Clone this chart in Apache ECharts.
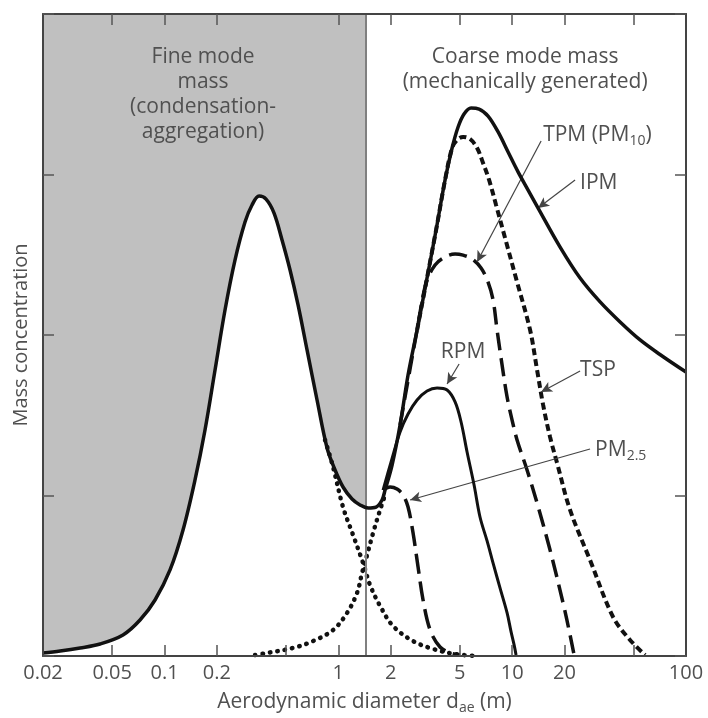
<!DOCTYPE html>
<html><head><meta charset="utf-8">
<script src="https://cdn.jsdelivr.net/npm/echarts@6/dist/echarts.min.js"></script>
<style>html,body{margin:0;padding:0;background:#fff}#c{width:708px;height:718px}</style>
</head><body><div id="c"></div>
<script>
// ---- axis ----
const xMin = 0.02, xMax = 100;
const tickLabelValues = [0.02, 0.05, 0.1, 0.2, 1, 2, 5, 10, 20, 100];
const tickLabelTexts = ['0.02', '0.05', '0.1', '0.2', '1', '2', '5', '10', '20', '100'];
const bottomTickValues = [0.05, 0.1, 0.2, 0.5, 1, 2, 5, 10, 20, 50];
const topTickValues = [0.05, 0.1, 0.2, 1, 2, 5, 10, 20, 50];
const fineCoarseBoundary = 1.43;

// ---- total mass distribution (IPM) ----
const totalD = [0.02, 0.0251, 0.0327, 0.0426, 0.0577, 0.0723, 0.0882, 0.1076, 0.1278, 0.1498, 0.171, 0.1953, 0.2229, 0.2544, 0.2905, 0.3188, 0.3499, 0.3838, 0.4267, 0.4744, 0.5275, 0.5865, 0.6607, 0.7543, 0.8612, 0.9574, 1.064, 1.199, 1.333, 1.483, 1.648, 1.784, 1.857, 2.038, 2.265, 2.518, 2.838, 3.197, 3.65, 4.112, 4.512, 4.886, 5.287, 5.802, 6.45, 7.267, 8.299, 9.474, 10.81, 12.35, 14.1, 18.87, 24.59, 32.06, 41.78, 54.45, 72.88, 100];
const totalC = [0.019, 0.031, 0.05, 0.075, 0.131, 0.224, 0.349, 0.536, 0.785, 1.097, 1.408, 1.782, 2.156, 2.467, 2.704, 2.81, 2.866, 2.847, 2.76, 2.592, 2.405, 2.187, 1.907, 1.595, 1.296, 1.159, 1.053, 0.978, 0.941, 0.922, 0.928, 0.972, 1.034, 1.19, 1.439, 1.751, 2.031, 2.324, 2.654, 2.966, 3.165, 3.296, 3.377, 3.414, 3.408, 3.364, 3.265, 3.14, 3.016, 2.903, 2.791, 2.548, 2.355, 2.206, 2.081, 1.969, 1.869, 1.769];

// ---- fine-mode tail (dotted) ----
const fineTailD = [0.8386, 0.9324, 1.064, 1.215, 1.388, 1.522, 1.738, 2.064, 2.691, 3.508, 4.695, 6.284];
const fineTailC = [1.346, 1.178, 0.928, 0.754, 0.579, 0.442, 0.312, 0.187, 0.093, 0.044, 0.012, 0];

// ---- coarse-mode tail (dotted) ----
const coarseTailD = [0.3318, 0.3889, 0.5487, 0.7153, 0.9324, 1.122, 1.281, 1.369, 1.463, 1.584, 1.738, 1.882];
const coarseTailC = [0.006, 0.019, 0.05, 0.093, 0.162, 0.268, 0.393, 0.517, 0.629, 0.766, 0.91, 1.022];

// ---- RPM (solid) ----
const rpmD = [1.808, 2.011, 2.265, 2.518, 2.838, 3.239, 3.698, 4.223, 4.695, 5.083, 5.503, 6.038, 6.531, 7.172, 7.767, 8.511, 9.35, 9.858, 10.26, 10.53];
const rpmC = [1.034, 1.209, 1.396, 1.508, 1.595, 1.651, 1.67, 1.657, 1.583, 1.458, 1.271, 1.065, 0.866, 0.717, 0.579, 0.424, 0.268, 0.15, 0.069, 0.006];

// ---- PM2.5 (dashed) ----
const pm25D = [1.808, 1.986, 2.177, 2.357, 2.518, 2.691, 2.875, 3.072, 3.373, 3.846, 4.395, 5.012];
const pm25C = [1.034, 1.053, 1.04, 1.003, 0.928, 0.766, 0.555, 0.349, 0.162, 0.056, 0.019, 0.006];

// ---- TPM / PM10 (long dash) ----
const tpmD = [2.265, 2.838, 3.197, 3.602, 4.112, 4.695, 5.218, 5.879, 6.623, 7.267, 7.767, 8.189, 8.75, 9.35, 9.989, 10.67, 12.18, 13.91, 16.52, 19.63, 21.53, 22.71];
const tpmC = [1.439, 2.031, 2.324, 2.436, 2.486, 2.505, 2.498, 2.474, 2.417, 2.33, 2.218, 2.031, 1.813, 1.614, 1.47, 1.346, 1.159, 0.953, 0.66, 0.33, 0.131, 0.006];

// ---- TSP (short dash) ----
const tspD = [2.838, 3.65, 4.112, 4.512, 4.822, 5.218, 5.728, 6.284, 6.801, 7.366, 8.079, 9.104, 10.67, 12.68, 13.91, 15.07, 16.52, 18.13, 21.53, 28.05, 38.07, 47.64, 58.17];
const tspC = [2.031, 2.654, 2.966, 3.165, 3.215, 3.234, 3.221, 3.165, 3.072, 2.966, 2.81, 2.604, 2.33, 2.031, 1.782, 1.564, 1.364, 1.202, 0.91, 0.598, 0.243, 0.1, 0.006];

// ---- annotations ----
const annoText = ['{a|TPM (PM}{s|10}{a|)}', '{a|IPM}', '{a|RPM}', '{a|TSP}', '{a|PM}{s|2.5}'];
const annoAlign = ['left', 'left', 'center', 'left', 'left'];
const annoLabelD = [15.07, 24.59, 5.218, 24.59, 30.0];
const annoLabelC = [3.246, 2.947, 1.894, 1.782, 1.283];
const arrowFromD = [14.67, 23.01, 4.951, 24.59, 28.05];
const arrowFromC = [3.209, 2.966, 1.819, 1.776, 1.29];
const arrowToD = [6.284, 14.1, 4.223, 14.67, 2.588];
const arrowToC = [2.455, 2.791, 1.695, 1.645, 0.972];

const regionText = ['Fine mode\nmass\n(condensation-\naggregation)', 'Coarse mode mass\n(mechanically generated)'];
const regionD = [0.1666, 11.87];
const regionC = [3.498, 3.651];

// ---------------------------------------------------------------
const L10 = Math.log10;
const toPts = (ds, cs) => ds.map((d, i) => [L10(d), cs[i]]);
const fontFam = "'Open Sans', 'DejaVu Sans', sans-serif";
const textColor = '#505050';
const ink = '#111';
function fmtTick(v) {
  let best = 0, bd = 1e9;
  tickLabelValues.forEach((t, i) => { const dd = Math.abs(L10(t) - v); if (dd < bd) { bd = dd; best = i; } });
  return tickLabelTexts[best];
}
const axisLineStyle = { color: '#444', width: 2 };
const tickStyle = { color: '#555', width: 1.5 };

function curve(name, ds, cs, lineStyle, z) {
  return { name, type: 'line', data: toPts(ds, cs), smooth: 0.35, symbol: 'none', silent: true, z,
           lineStyle: Object.assign({ color: ink }, lineStyle) };
}

const richStyles = {
  a: { fontSize: 21, color: textColor, fontFamily: fontFam, lineHeight: 26 },
  s: { fontSize: 14, color: textColor, fontFamily: fontFam, padding: [11, 0, 0, 0] }
};

const arrowData = annoText.map((t, i) => [
  { coord: [L10(arrowFromD[i]), arrowFromC[i]] },
  { coord: [L10(arrowToD[i]), arrowToC[i]] }
]);
const labelData = annoText.map((t, i) => ({
  coord: [L10(annoLabelD[i]), annoLabelC[i]],
  label: { show: true, position: 'inside', align: annoAlign[i], verticalAlign: 'middle', formatter: t, rich: richStyles }
})).concat(regionText.map((t, i) => ({
  coord: [L10(regionD[i]), regionC[i]],
  label: { show: true, position: 'inside', align: 'center', verticalAlign: 'middle', formatter: t,
           fontSize: 21, lineHeight: 25, color: textColor, fontFamily: fontFam }
})));

const option = {
  animation: false,
  backgroundColor: '#fff',
  grid: { left: 43, right: 22, top: 14, bottom: 62, containLabel: false, outerBoundsMode: 'none' },
  xAxis: [
    { type: 'value', min: L10(xMin), max: L10(xMax), position: 'bottom', z: 10,
      axisLine: { show: true, onZero: false, lineStyle: axisLineStyle },
      axisTick: { show: true, inside: true, length: 11, lineStyle: tickStyle, customValues: bottomTickValues.map(L10) },
      axisLabel: { show: true, margin: 7, fontSize: 20, color: textColor, fontFamily: fontFam,
                   customValues: tickLabelValues.map(L10), formatter: fmtTick },
      splitLine: { show: false },
      name: 'Aerodynamic diameter d{s|ae} (m)', nameLocation: 'middle', nameGap: 34,
      nameTextStyle: { fontSize: 21, color: textColor, fontFamily: fontFam,
        rich: { s: { fontSize: 14, color: textColor, fontFamily: fontFam, padding: [11, 0, 0, 0] } } } },
    { type: 'value', min: L10(xMin), max: L10(xMax), position: 'top', z: 10,
      axisLine: { show: true, onZero: false, lineStyle: axisLineStyle },
      axisTick: { show: true, inside: true, length: 11, lineStyle: tickStyle, customValues: topTickValues.map(L10) },
      axisLabel: { show: false }, splitLine: { show: false } }
  ],
  yAxis: [
    { type: 'value', min: 0, max: 4, interval: 1, position: 'left', z: 10,
      axisLine: { show: true, onZero: false, lineStyle: axisLineStyle },
      axisTick: { show: true, inside: true, length: 11, lineStyle: tickStyle },
      axisLabel: { show: false }, splitLine: { show: false },
      name: 'Mass concentration', nameLocation: 'middle', nameGap: 12,
      nameTextStyle: { fontSize: 20, color: textColor, fontFamily: fontFam } },
    { type: 'value', min: 0, max: 4, interval: 1, position: 'right', z: 10,
      axisLine: { show: true, onZero: false, lineStyle: axisLineStyle },
      axisTick: { show: true, inside: true, length: 11, lineStyle: tickStyle },
      axisLabel: { show: false }, splitLine: { show: false } }
  ],
  series: [
    { name: 'fine region', type: 'line', data: [], z: 1, silent: true,
      markArea: { silent: true, itemStyle: { color: '#c0c0c0' },
                  data: [[{ xAxis: L10(xMin) }, { xAxis: L10(fineCoarseBoundary) }]] } },
    { name: 'under curve', type: 'line', data: toPts(totalD, totalC), smooth: 0.35, symbol: 'none', silent: true, z: 2,
      lineStyle: { width: 0 }, areaStyle: { color: '#fff', opacity: 1 } },
    { name: 'divider', type: 'line', data: [], z: 3, silent: true,
      markLine: { silent: true, symbol: ['none', 'none'], label: { show: false },
                  lineStyle: { color: '#808080', width: 2, type: 'solid' },
                  data: [{ xAxis: L10(fineCoarseBoundary) }] } },
    curve('fine tail', fineTailD, fineTailC, { width: 4.5, type: [0.5, 7], cap: 'round' }, 4),
    curve('coarse tail', coarseTailD, coarseTailC, { width: 4.5, type: [0.5, 7], cap: 'round' }, 4),
    curve('TSP', tspD, tspC, { width: 4, type: [7, 4] }, 4),
    curve('TPM', tpmD, tpmC, { width: 3.5, type: [18, 8] }, 4),
    curve('PM2.5', pm25D, pm25C, { width: 3.5, type: [20, 8] }, 4),
    curve('RPM', rpmD, rpmC, { width: 3 }, 5),
    curve('IPM', totalD, totalC, { width: 3.5 }, 5),
    { name: 'annotations', type: 'line', data: [], z: 6, silent: true,
      markLine: { silent: true, symbol: ['none', 'arrow'], symbolSize: [8, 11], label: { show: false },
                  lineStyle: { color: '#444', width: 1.2, type: 'solid' }, data: arrowData },
      markPoint: { silent: true, symbol: 'circle', symbolSize: 1, itemStyle: { color: 'rgba(0,0,0,0)' },
                   data: labelData } }
  ]
};

const chart = echarts.init(document.getElementById('c'), null, { renderer: 'canvas' });
chart.setOption(option);
</script>
</body></html>
